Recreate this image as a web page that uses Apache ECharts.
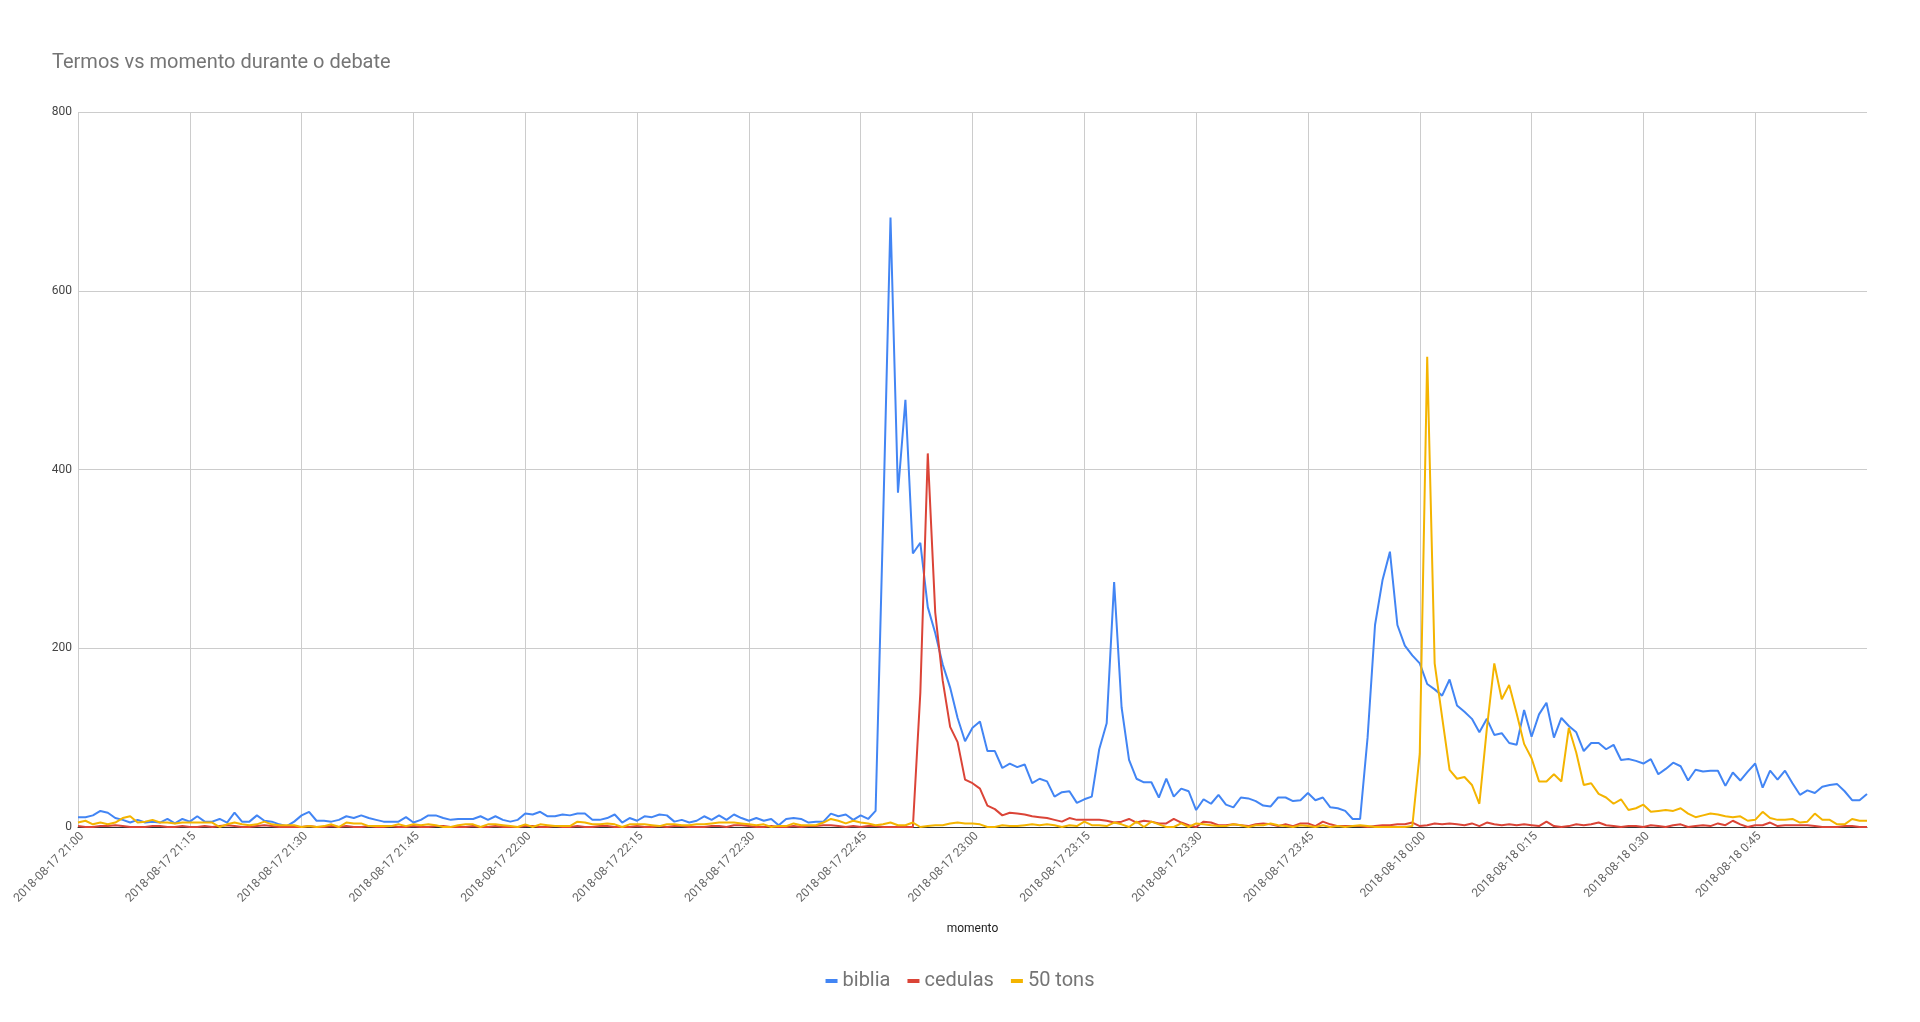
<!DOCTYPE html>
<html>
<head>
<meta charset="utf-8">
<script src="https://cdn.jsdelivr.net/npm/echarts@6/dist/echarts.min.js"></script>
<style>
  html, body { margin: 0; padding: 0; background: #fff; }
  #chart { width: 1920px; height: 1022px; }
</style>
</head>
<body>
<div id="chart"></div>
<script>
// ---- data (one value per minute, 2018-08-17 21:00 .. 2018-08-18 1:00) ----
const startDay = '2018-08-17';
const nextDay = '2018-08-18';
const startHour = 21;
const minuteCount = 241;

const tickLabels = [
  '2018-08-17 21:00', '2018-08-17 21:15', '2018-08-17 21:30', '2018-08-17 21:45',
  '2018-08-17 22:00', '2018-08-17 22:15', '2018-08-17 22:30', '2018-08-17 22:45',
  '2018-08-17 23:00', '2018-08-17 23:15', '2018-08-17 23:30', '2018-08-17 23:45',
  '2018-08-18 0:00', '2018-08-18 0:15', '2018-08-18 0:30', '2018-08-18 0:45'
];

const biblia = [
  11,11,13,18,16,10,8,5,8,5,6,5,9,4,9,6,12,6,6,9,5,16,6,6,13,7,6,3,1,6,13,17,7,7,6,8,12,10,13,10,8,
  6,6,6,11,5,8,13,13,10,8,9,9,9,12,8,12,8,6,8,15,14,17,12,12,14,13,15,15,8,8,10,14,5,10,7,12,11,14,13,6,8,5,
  7,12,8,13,8,14,10,7,10,7,9,2,9,10,9,5,6,6,15,12,14,8,13,9,18,
  340,682,374,478,306,318,246,217,182,156,122,96,111,118,85,85,66,71,67,70,49,54,51,34,
  39,40,27,31,34,87,116,274,134,75,54,50,50,33,54,34,43,40,19,31,26,36,25,22,33,32,29,24,23,
  33,33,29,30,38,30,33,22,21,18,9,9,
  100,226,276,308,226,203,192,183,160,154,147,165,136,129,121,106,121,103,105,94,92,131,101,126,139,100,
  122,113,106,85,94,94,87,92,75,76,74,71,76,59,65,72,68,52,64,62,63,63,46,61,52,62,71,44,63,53,63,49,36,41,38,45,47,48,40,30,30,37
];

const cedulas = [
  1,0,0,1,1,2,1,0,0,0,1,1,0,0,1,0,0,1,0,1,2,1,0,0,1,2,1,0,0,0,0,1,0,0,1,0,1,0,0,1,0,
  0,1,0,0,1,0,0,1,1,0,0,0,1,0,0,1,0,0,0,1,1,0,0,1,0,0,1,0,0,1,1,0,0,0,1,0,0,1,0,1,1,0,
  0,0,1,1,0,2,2,1,0,0,1,0,0,1,0,1,1,2,2,1,0,1,0,1,1,
  0,0,0,0,0,150,418,240,164,112,95,53,49,43,24,20,13,16,15,14,12,11,10,8,
  6,10,8,8,8,8,7,5,6,9,5,7,6,4,4,9,5,2,0,6,5,2,2,3,2,1,3,4,3,
  1,3,1,4,4,1,6,3,1,1,1,1,0,1,2,2,3,3,5,1,2,4,3,4,3,
  2,4,1,5,3,2,3,2,3,2,1,6,1,0,
  1,3,2,3,5,2,1,0,1,1,0,2,1,0,2,3,0,1,2,1,4,2,7,3,0,2,2,5,1,2,2,2,2,1,0,0,0,1,1,0,0
];

const tons50 = [
  5,7,3,5,3,5,10,12,5,6,8,5,5,4,5,5,5,5,5,0,3,5,3,2,3,6,3,2,2,2,0,1,0,1,3,0,5,4,4,1,1,
  1,1,3,1,3,2,3,2,0,0,2,3,3,0,3,3,2,1,0,3,0,3,2,1,1,1,6,5,3,3,4,3,0,3,3,3,2,1,3,3,2,2,
  3,3,4,5,5,5,4,3,2,3,0,1,1,4,2,2,2,5,9,7,4,7,5,4,2,
  3,5,2,2,5,0,1,2,2,4,5,4,4,3,0,0,2,1,1,2,3,2,3,2,
  0,2,1,6,2,2,1,5,3,0,6,0,6,3,0,0,4,0,4,3,2,1,1,3,2,0,2,2,4,
  2,1,0,2,1,0,2,0,1,0,1,2,1,0,0,0,0,0,1,
  82,526,183,123,64,54,56,47,26,110,183,143,159,127,93,77,51,51,59,
  51,111,83,47,49,37,33,26,31,19,21,25,17,18,19,18,21,15,11,13,15,14,12,11,12,7,8,17,10,8,8,9,5,6,15,8,8,3,3,9,7,7
];

// category labels, one per minute
const categories = [];
for (let m = 0; m < minuteCount; m++) {
  const total = startHour * 60 + m;
  const h = Math.floor(total / 60) % 24;
  const mm = total % 60;
  const day = total >= 24 * 60 ? nextDay : startDay;
  categories.push(day + ' ' + h + ':' + String(mm).padStart(2, '0'));
}

const FONT = 'Roboto, "Noto Sans", Arial, sans-serif';
const showTick = (idx) => idx % 15 === 0 && tickLabels.indexOf(categories[idx]) !== -1;

const chart = echarts.init(document.getElementById('chart'), null, { renderer: 'canvas' });
chart.setOption({
  animation: false,
  backgroundColor: '#ffffff',
  title: {
    text: 'Termos vs momento durante o debate',
    left: 47,
    top: 48,
    textStyle: { fontFamily: FONT, fontSize: 20, fontWeight: 'normal', color: '#757575' }
  },
  legend: {
    data: ['biblia', 'cedulas', '50 tons'],
    left: 'center',
    top: 966,
    icon: 'rect',
    itemWidth: 12,
    itemHeight: 4,
    itemGap: 17,
    textStyle: { fontFamily: FONT, fontSize: 20, color: '#757575' }
  },
  grid: { left: 78, right: 53, top: 112, bottom: 195, containLabel: false },
  xAxis: {
    type: 'category',
    data: categories,
    boundaryGap: false,
    name: 'momento',
    nameLocation: 'middle',
    nameGap: 96,
    nameTextStyle: { fontFamily: FONT, fontSize: 12, color: '#222222' },
    axisLine: { show: true, lineStyle: { color: '#333333', width: 1 } },
    axisTick: { show: false },
    axisLabel: {
      interval: showTick,
      rotate: 45,
      margin: 3,
      verticalAlign: 'top',
      fontFamily: FONT,
      fontSize: 12,
      color: '#666666'
    },
    splitLine: { show: true, interval: showTick, lineStyle: { color: '#cccccc', width: 1 } }
  },
  yAxis: {
    type: 'value',
    min: 0,
    max: 800,
    interval: 200,
    axisLine: { show: false },
    axisTick: { show: false },
    axisLabel: { fontFamily: FONT, fontSize: 12, color: '#444444', margin: 6 },
    splitLine: { show: true, lineStyle: { color: '#cccccc', width: 1 } }
  },
  series: [
    { name: 'biblia', type: 'line', data: biblia, showSymbol: false, symbol: 'none',
      color: '#4285F4', lineStyle: { width: 2, color: '#4285F4' } },
    { name: 'cedulas', type: 'line', data: cedulas, showSymbol: false, symbol: 'none',
      color: '#DB4437', lineStyle: { width: 2, color: '#DB4437' } },
    { name: '50 tons', type: 'line', data: tons50, showSymbol: false, symbol: 'none',
      color: '#F4B400', lineStyle: { width: 2, color: '#F4B400' } }
  ]
});
</script>
</body>
</html>
